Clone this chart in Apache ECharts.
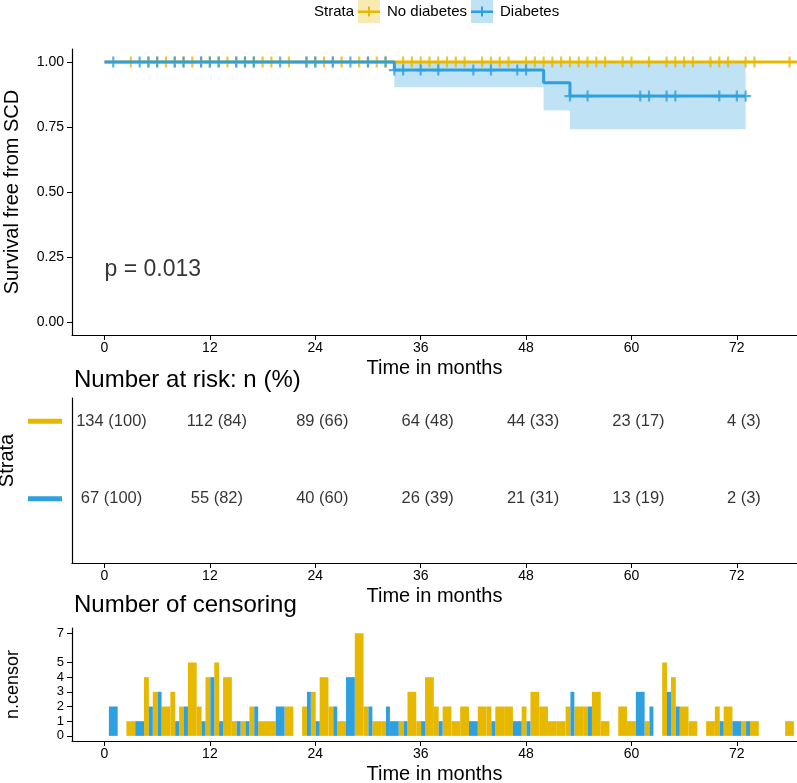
<!DOCTYPE html>
<html>
<head>
<meta charset="utf-8">
<script src="https://cdn.jsdelivr.net/npm/echarts@6/dist/echarts.min.js"></script>
<style>
  html, body { margin: 0; background: #fff; }
  #chart { width: 797px; height: 783px; }
</style>
</head>
<body>
<div id="chart"></div>
<script>
// ---- data ----
const strata = ['No diabetes', 'Diabetes'];
const colors = ['#E7B800', '#2E9FDF'];
const bandColors = ['rgba(231,184,0,0.3)', 'rgba(46,159,223,0.3)'];

// number censored per month [month, n]
const censorNoDiab = [[3,1],[5,4],[6,3],[7,2],[8,3],[9,2],[10,5],[11,2],[12,4],[13,5],[14,4],[15,1],[16,1],[17,2],[18,1],[19,1],[21,2],[23,2],[24,3],[25,4],[26,2],[27,1],[29,7],[30,2],[31,1],[32,1],[34,1],[35,3],[36,1],[37,4],[38,2],[39,2],[40,1],[41,2],[43,2],[44,2],[45,2],[46,2],[48,2],[49,3],[50,2],[51,1],[52,1],[53,2],[54,2],[55,2],[56,3],[57,1],[59,2],[60,1],[62,1],[64,5],[65,4],[66,2],[67,1],[69,1],[70,2],[71,2],[73,1],[74,1],[78,1]];
const censorDiab = [[1,2],[4,1],[5,2],[6,3],[8,1],[9,2],[11,1],[12,4],[13,1],[15,1],[16,1],[17,2],[20,2],[23,3],[24,1],[26,2],[28,4],[30,2],[32,2],[33,1],[34,1],[36,1],[38,1],[42,1],[44,1],[47,1],[48,1],[53,3],[55,2],[61,3],[62,2],[64,3],[65,2],[70,1],[72,1],[73,1]];

// Kaplan-Meier steps [time, survival]
const kmNoDiab = [[0,1],[78.85,1]];
const kmDiab = [[0,1],[33,0.969],[50,0.920],[53,0.869],[73,0.869]];
// confidence band of Diabetes [from, to, lower, upper]
const ciDiab = [[33,50,0.903,1],[50,53,0.813,1],[53,73,0.741,1]];

const pValue = 'p = 0.013';

const riskTimes = [0,12,24,36,48,60,72];
const riskNoDiab = ['134 (100)','112 (84)','89 (66)','64 (48)','44 (33)','23 (17)','4 (3)'];
const riskDiab = ['67 (100)','55 (82)','40 (60)','26 (39)','21 (31)','13 (19)','2 (3)'];

const xTicks = [0,12,24,36,48,60,72];
const survTicks = [0,0.25,0.5,0.75,1];
const censorTicks = [0,1,2,3,4,5,7];

// ---- helpers ----
const font = 'Liberation Sans, Arial, sans-serif';
const plusIcon = 'path://M4,0H6V4H10V6H6V10H4V6H0V4H4Z';

function survAt(km, t) {
  let s = km[0][1];
  for (const [time, v] of km) if (time <= t) s = v;
  return s;
}

// bars sharing a month are put side by side
function dodge(own, other, left) {
  const taken = new Set(other.map(d => d[0]));
  return own.map(([m, n]) => {
    if (!taken.has(m)) return [m - 0.5, m + 0.5, n];
    return left ? [m - 0.5, m + 0.05, n] : [m + 0.05, m + 0.5, n];
  });
}

function rectItem(params, api) {
  const a = api.coord([api.value(0), api.value(3)]);
  const b = api.coord([api.value(1), api.value(2)]);
  return {
    type: 'rect',
    shape: { x: a[0], y: a[1], width: b[0] - a[0], height: b[1] - a[1] },
    style: { fill: api.visual('color') }
  };
}

const axisLine = { show: true, onZero: false, lineStyle: { color: '#000', width: 1.2 } };

function xAxis(gridIndex) {
  return {
    type: 'value', gridIndex, min: -3.7, max: 78.85,
    name: 'Time in months', nameLocation: 'middle', nameGap: 23,
    nameTextStyle: { fontSize: 20, color: '#000', fontFamily: font },
    axisLine: axisLine,
    axisTick: { length: 5, customValues: xTicks, lineStyle: { color: '#000' } },
    axisLabel: { customValues: xTicks, fontSize: 14, color: '#000', fontFamily: font, margin: 6 },
    splitLine: { show: false }
  };
}

function yAxis(gridIndex, name, min, max, ticks) {
  return {
    type: 'value', gridIndex, min, max,
    name, nameLocation: 'middle', nameGap: 50, nameRotate: 90,
    nameTextStyle: { fontSize: 20, color: '#000' },
    axisLine: axisLine,
    axisTick: { show: true, length: 5, customValues: ticks, lineStyle: { color: '#000' } },
    axisLabel: { customValues: ticks, fontSize: 14, color: '#000' },
    splitLine: { show: false }
  };
}

const chart = echarts.init(document.getElementById('chart'));

const survAxis = yAxis(0, 'Survival free from SCD', -0.05, 1.05, survTicks);
survAxis.axisLabel.formatter = v => v.toFixed(2);

const riskAxis = yAxis(1, 'Strata', 0.17, 2.3, [1, 2]);
riskAxis.nameTextStyle.padding = [0, 0, 0, 40];
riskAxis.axisTick = { show: false };
riskAxis.axisLabel = {
  customValues: [1, 2], margin: 10,
  formatter: v => v === 2 ? '{a|}' : '{b|}',
  rich: {
    a: { backgroundColor: colors[0], width: 34, height: 5 },
    b: { backgroundColor: colors[1], width: 34, height: 5 }
  }
};

const censorAxis = yAxis(2, 'n.censor', -0.35, 7.35, censorTicks);
censorAxis.axisLabel.fontSize = 13;
censorAxis.nameTextStyle.fontSize = 18;

const legendFont = '15px ' + font;
const riskLabel = { show: true, position: 'inside', offset: [7, 0], formatter: p => p.data[2], fontSize: 16.5, color: '#000' };

const option = {
  backgroundColor: '#fff',
  animation: false,
  textStyle: { fontFamily: font },
  title: [
    { text: 'Number at risk: n (%)', left: 69, top: 363, textStyle: { fontSize: 24, fontWeight: 'normal', color: '#000' } },
    { text: 'Number of censoring', left: 69, top: 588, textStyle: { fontSize: 24, fontWeight: 'normal', color: '#000' } }
  ],
  graphic: [
    { type: 'text', left: 314, top: 4, style: { text: 'Strata', fill: '#000', font: legendFont } },
    { type: 'rect', left: 358, top: 0, shape: { width: 22, height: 23 }, style: { fill: bandColors[0] } },
    { type: 'rect', left: 358, top: 10.5, shape: { width: 22, height: 2.5 }, style: { fill: colors[0] } },
    { type: 'rect', left: 368, top: 6.5, shape: { width: 2, height: 10 }, style: { fill: colors[0] } },
    { type: 'text', left: 387, top: 4, style: { text: strata[0], fill: '#000', font: legendFont } },
    { type: 'rect', left: 471, top: 0, shape: { width: 22, height: 23 }, style: { fill: bandColors[1] } },
    { type: 'rect', left: 471, top: 10.5, shape: { width: 22, height: 2.5 }, style: { fill: colors[1] } },
    { type: 'rect', left: 481, top: 6.5, shape: { width: 2, height: 10 }, style: { fill: colors[1] } },
    { type: 'text', left: 500, top: 4, style: { text: strata[1], fill: '#000', font: legendFont } }
  ],
  grid: [
    { left: 72, right: 0, top: 49, height: 286, outerBoundsMode: 'none' },
    { left: 72, right: 0, top: 398, height: 165, outerBoundsMode: 'none' },
    { left: 72, right: 0, top: 628, height: 113, outerBoundsMode: 'none' }
  ],
  xAxis: [xAxis(0), xAxis(1), xAxis(2)],
  yAxis: [survAxis, riskAxis, censorAxis],
  series: [
    {
      type: 'custom', xAxisIndex: 0, yAxisIndex: 0, renderItem: rectItem,
      itemStyle: { color: bandColors[1] }, data: ciDiab, silent: true
    },
    {
      name: strata[0], type: 'line', xAxisIndex: 0, yAxisIndex: 0, step: 'end',
      showSymbol: false, lineStyle: { color: colors[0], width: 3 }, data: kmNoDiab
    },
    {
      name: strata[1], type: 'line', xAxisIndex: 0, yAxisIndex: 0, step: 'end',
      showSymbol: false, lineStyle: { color: colors[1], width: 3 }, data: kmDiab
    },
    {
      type: 'scatter', xAxisIndex: 0, yAxisIndex: 0, symbol: plusIcon, symbolSize: 11,
      itemStyle: { color: colors[0] },
      data: censorNoDiab.map(([m]) => [m, survAt(kmNoDiab, m)])
    },
    {
      type: 'scatter', xAxisIndex: 0, yAxisIndex: 0, symbol: plusIcon, symbolSize: 11,
      itemStyle: { color: colors[1] },
      data: censorDiab.map(([m]) => [m, survAt(kmDiab, m)])
    },
    {
      type: 'scatter', xAxisIndex: 0, yAxisIndex: 0, symbolSize: 0,
      data: [[0, 0.2]],
      label: { show: true, position: 'right', distance: 0, formatter: pValue, fontSize: 23, color: '#000' }
    },
    {
      type: 'scatter', xAxisIndex: 1, yAxisIndex: 1, symbolSize: 0,
      data: riskTimes.map((t, i) => [t, 2, riskNoDiab[i]]),
      label: riskLabel
    },
    {
      type: 'scatter', xAxisIndex: 1, yAxisIndex: 1, symbolSize: 0,
      data: riskTimes.map((t, i) => [t, 1, riskDiab[i]]),
      label: riskLabel
    },
    {
      type: 'custom', xAxisIndex: 2, yAxisIndex: 2, renderItem: rectItem,
      itemStyle: { color: colors[0] },
      data: dodge(censorNoDiab, censorDiab, true).map(d => [d[0], d[1], 0, d[2]])
    },
    {
      type: 'custom', xAxisIndex: 2, yAxisIndex: 2, renderItem: rectItem,
      itemStyle: { color: colors[1] },
      data: dodge(censorDiab, censorNoDiab, false).map(d => [d[0], d[1], 0, d[2]])
    }
  ]
};

chart.setOption(option);
</script>
</body>
</html>
